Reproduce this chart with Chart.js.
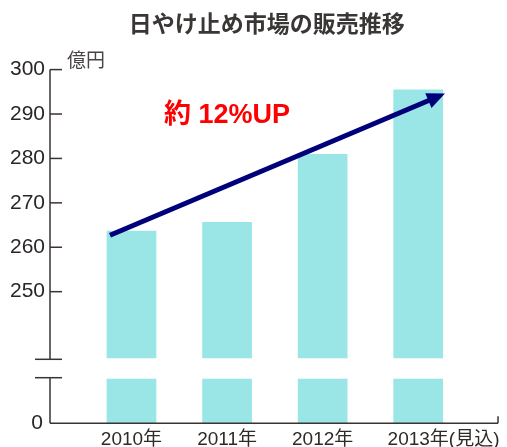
<!DOCTYPE html>
<html lang="ja">
<head>
<meta charset="utf-8">
<title>日やけ止め市場の販売推移</title>
<script src="https://cdn.jsdelivr.net/npm/chart.js@4.4.1/dist/chart.umd.min.js"></script>
<style>
  body { margin: 0; background: #fff; }
  #wrap { position: relative; width: 507px; height: 447px; overflow: hidden; }
  #wrap canvas { position: absolute; left: 0; top: 0; }
</style>
</head>
<body>
<div id="wrap">
  <canvas id="upper" width="507" height="447"></canvas>
  <canvas id="lower" width="507" height="447"></canvas>
</div>
<script>
// data
const years = ["2010年", "2011年", "2012年", "2013年"];
const yearNotes = ["", "", "", "(見込)"];
const sales = [263.7, 265.7, 281, 295.5]; // 億円
const upperTicks = [250, 260, 270, 280, 290, 300];
const lowerTicks = [0];
const upperRange = [235, 300];
const lowerRange = [0, 10];
const trendLabel = "約 12%UP";
const trendFrom = [-0.225, 262.7]; // [category index, 億円]
const trendTo = [3.28, 294.6];
const trendLabelAt = [1.0, 289.7];

const AXIS = "#3a3333";
const BAR = "#9ae6e6";
const NAVY = "#00007a";
const latin = "'Liberation Sans', 'Noto Sans CJK JP', sans-serif";
const cjk = "'Noto Sans CJK JP', sans-serif";

function line(ctx, x1, y1, x2, y2) {
    ctx.beginPath();
    ctx.moveTo(x1, y1);
    ctx.lineTo(x2, y2);
    ctx.stroke();
}

// y axis line sits left of the bar area
function axisX(chart) { return chart.chartArea.left - 33.7; }

const upperDeco = {
    id: "upperDeco",
    afterDraw(chart) {
        const { ctx, chartArea, scales } = chart;
        const x = scales.x, y = scales.y;
        const ax = axisX(chart);
        ctx.save();
        ctx.strokeStyle = AXIS;
        ctx.lineWidth = 1.5;
        const top = y.getPixelForValue(upperTicks[upperTicks.length - 1]);
        const brk = chartArea.bottom + 1;
        line(ctx, ax, top, ax, brk);
        upperTicks.forEach(v => {
            const py = y.getPixelForValue(v);
            line(ctx, ax, py, ax + 12, py);
        });
        line(ctx, ax - 15, brk, ax + 12, brk);

        ctx.fillStyle = "#4a4545";
        ctx.font = "19px " + cjk;
        ctx.textBaseline = "middle";
        ctx.fillText("億円", ax + 17, 60);

        // trend arrow
        const x1 = x.getPixelForValue(trendFrom[0]), y1 = y.getPixelForValue(trendFrom[1]);
        const x2 = x.getPixelForValue(trendTo[0]), y2 = y.getPixelForValue(trendTo[1]);
        const a = Math.atan2(y2 - y1, x2 - x1);
        const c = Math.cos(a), s = Math.sin(a);
        const head = 18, half = 8;
        ctx.strokeStyle = NAVY;
        ctx.lineWidth = 5;
        line(ctx, x1, y1, x2 - head * 0.8 * c, y2 - head * 0.8 * s);
        ctx.fillStyle = NAVY;
        ctx.beginPath();
        ctx.moveTo(x2, y2);
        ctx.lineTo(x2 - head * c + half * s, y2 - head * s - half * c);
        ctx.lineTo(x2 - head * c - half * s, y2 - head * s + half * c);
        ctx.closePath();
        ctx.fill();

        ctx.fillStyle = "#ff0000";
        ctx.font = "bold 27px " + latin;
        ctx.textAlign = "center";
        ctx.fillText(trendLabel, x.getPixelForValue(trendLabelAt[0]), y.getPixelForValue(trendLabelAt[1]));
        ctx.restore();
    }
};

const lowerDeco = {
    id: "lowerDeco",
    afterDraw(chart) {
        const { ctx, chartArea, scales } = chart;
        const x = scales.x;
        const ax = axisX(chart);
        const base = chartArea.bottom;
        const brk = chartArea.top - 1;
        const right = chartArea.right + 32;
        ctx.save();
        ctx.strokeStyle = AXIS;
        ctx.lineWidth = 1.5;
        line(ctx, ax - 15, brk, ax + 12, brk);
        line(ctx, ax, brk, ax, base);
        line(ctx, ax, base, right, base);
        line(ctx, right, base, right, base - 7);

        ctx.fillStyle = "#2e2a2a";
        ctx.font = "19px " + latin;
        ctx.textBaseline = "alphabetic";
        years.forEach((label, i) => {
            const cx = x.getPixelForValue(i);
            const w = ctx.measureText(label).width;
            ctx.textAlign = "left";
            ctx.fillText(label + yearNotes[i], cx - w / 2, base + 21.5);
        });
        ctx.restore();
    }
};

function makeChart(id, range, ticks, tickPad, padding, plugin, withTitle) {
    return new Chart(document.getElementById(id), {
        type: "bar",
        data: {
            labels: years,
            datasets: [{
                data: sales,
                backgroundColor: BAR,
                barPercentage: 0.52,
                categoryPercentage: 1,
                clip: 0
            }]
        },
        options: {
            responsive: false,
            animation: false,
            layout: { padding: padding },
            plugins: {
                legend: { display: false },
                tooltip: { enabled: false },
                title: {
                    display: withTitle,
                    text: "日やけ止め市場の販売推移",
                    color: "#3a3636",
                    font: { family: cjk, size: 23, weight: "bold" },
                    padding: { top: 9, bottom: 33 }
                }
            },
            scales: {
                x: { display: false },
                y: {
                    min: range[0],
                    max: range[1],
                    afterFit: s => { s.width = 16.3; },
                    afterBuildTicks: s => { s.ticks = ticks.map(v => ({ value: v })); },
                    border: { display: false },
                    grid: { display: false, drawTicks: false },
                    ticks: {
                        mirror: true,
                        crossAlign: "far",
                        padding: tickPad,
                        color: "#2a2626",
                        font: { family: latin, size: 21 }
                    }
                }
            }
        },
        plugins: [plugin]
    });
}

makeChart("upper", upperRange, upperTicks, -73.7, { left: 67.4, right: 41, top: 0, bottom: 88.7 }, upperDeco, true);
makeChart("lower", lowerRange, lowerTicks, -52.4, { left: 67.4, right: 41, top: 378.7, bottom: 23.7 }, lowerDeco, false);
</script>
</body>
</html>
